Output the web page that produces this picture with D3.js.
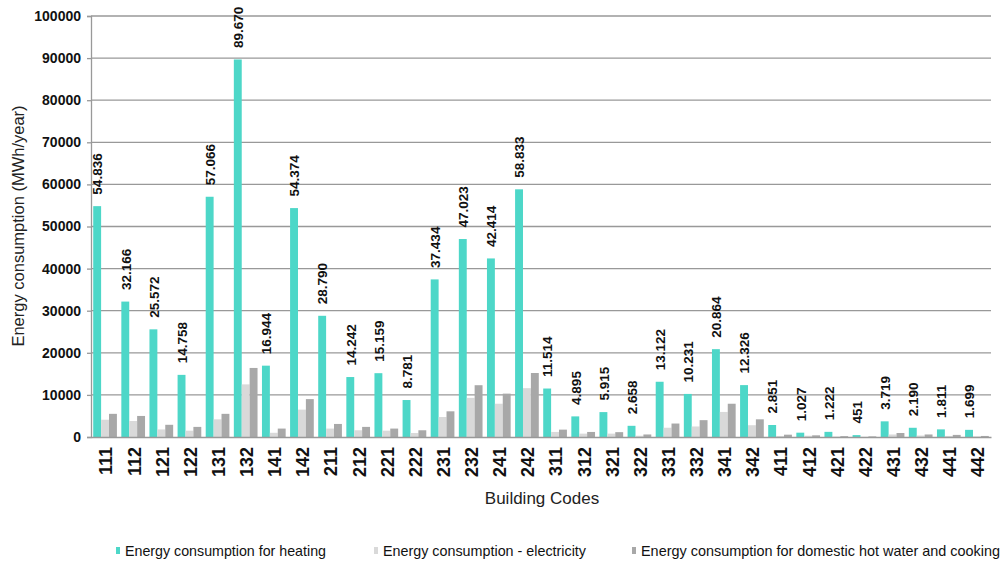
<!DOCTYPE html>
<html><head><meta charset="utf-8">
<script src="https://cdn.jsdelivr.net/npm/d3@7"></script>
<style>html,body{margin:0;padding:0;background:#fff;}svg{display:block;font-family:"Liberation Sans",Arial,sans-serif;}</style>
</head><body><svg id="chart" width="1006" height="564"></svg>
<script>
const codes = ["111","112","121","122","131","132","141","142","211","212","221","222","231","232","241","242","311","312","321","322","331","332","341","342","411","412","421","422","431","432","441","442"];
const heating = [54836,32166,25572,14758,57066,89670,16944,54374,28790,14242,15159,8781,37434,47023,42414,58833,11514,4895,5915,2658,13122,10231,20864,12326,2851,1027,1222,451,3719,2190,1811,1699];
const electricity = [4100,3800,1800,1500,4200,12500,1000,6500,2000,1600,1500,950,4750,9300,7900,11600,1200,800,800,300,2200,2500,5950,2800,250,300,100,50,600,350,250,150];
const dhw = [5500,5000,2900,2400,5500,16400,2000,9000,3100,2400,2000,1600,6100,12300,10300,15200,1750,1200,1150,600,3200,4000,7900,4200,550,400,200,150,950,600,500,250];
const seriesNames = ["Energy consumption for heating","Energy consumption - electricity","Energy consumption for domestic hot water and cooking"];
const seriesColors = ["#4dd7c8","#d9d9d9","#a8a8a8"];
const yTicks = [0,10000,20000,30000,40000,50000,60000,70000,80000,90000,100000];

const svg = d3.select("#chart");
const L = 91, R = 991, T = 16, B = 437;
const x = d3.scaleBand().domain(codes).range([L, R]).paddingInner(0).paddingOuter(0);
const keys = ["h","e","d"];
const xi = d3.scaleBand().domain(keys).range([0, x.bandwidth()]).paddingInner(0).paddingOuter(0.28);
const y = d3.scaleLinear().domain([0, 100000]).range([B, T]);
const loc = d3.formatLocale({decimal:",", thousands:".", grouping:[3], currency:["",""]});
const fmt = loc.format(",");

// gridlines
svg.append("g").selectAll("line").data(yTicks.filter(d=>d>0)).join("line")
  .attr("x1", L).attr("x2", R).attr("y1", d=>y(d)).attr("y2", d=>y(d))
  .attr("stroke", "#999").attr("stroke-width", 1.3);

// y axis
const yAxis = svg.append("g").attr("transform", `translate(${L},0)`)
  .call(d3.axisLeft(y).tickValues(yTicks).tickFormat(d3.format("d")).tickSize(4).tickPadding(6));
yAxis.select(".domain").attr("stroke", "#999").attr("stroke-width", 1.3);
yAxis.selectAll(".tick line").attr("stroke", "#999").attr("stroke-width", 1.3);
yAxis.selectAll("text").attr("font-size", 14).attr("font-weight", "bold").attr("fill", "#111")
  .attr("font-family", "Liberation Sans, Arial, sans-serif");

const data = codes.map((c,i)=>({code:c, h:heating[i], e:electricity[i], d:dhw[i]}));
const g = svg.append("g");
keys.forEach((k, si) => {
  g.append("g").selectAll("rect").data(data).join("rect")
    .attr("x", d => x(d.code) + xi(k))
    .attr("width", xi.bandwidth())
    .attr("y", d => y(d[k]))
    .attr("height", d => B - y(d[k]))
    .attr("fill", seriesColors[si]);
});

// x axis
const xAxis = svg.append("g").attr("transform", `translate(0,${B})`)
  .call(d3.axisBottom(x).tickSize(0).tickPadding(0));
xAxis.select(".domain").attr("stroke", "#999").attr("stroke-width", 1.3);
xAxis.selectAll("text")
  .attr("font-size", 18).attr("font-weight", "bold").attr("fill", "#111")
  .attr("font-family", "Liberation Sans, Arial, sans-serif")
  .attr("transform", "rotate(-90)")
  .attr("text-anchor", "end").attr("dy", "0.35em").attr("x", -10).attr("y", 1);

// value labels
g.append("g").selectAll("text").data(data).join("text")
  .attr("transform", d => `translate(${x(d.code) + xi("h") + xi.bandwidth()/2 + 0.5},${y(d.h) - 11.5}) rotate(-90)`)
  .attr("text-anchor", "start").attr("dy", "0.35em")
  .attr("font-size", 13.5).attr("font-weight", "bold").attr("fill", "#111")
  .text(d => fmt(d.h));

// axis titles
svg.append("text").attr("x", 542).attr("y", 504).attr("text-anchor", "middle")
  .attr("font-size", 17).attr("fill", "#222").text("Building Codes");
svg.append("text").attr("transform", "translate(24,226) rotate(-90)").attr("text-anchor", "middle")
  .attr("font-size", 16.5).attr("fill", "#222").text("Energy consumption (MWh/year)");

// legend
const legX = [116, 374, 632];
const legW = [201, 203, 359];
const leg = svg.append("g");
seriesNames.forEach((n, i) => {
  leg.append("rect").attr("x", legX[i]).attr("y", 547).attr("width", 4).attr("height", 7).attr("fill", seriesColors[i]);
  leg.append("text").attr("x", legX[i] + 9).attr("y", 556).attr("font-size", 14.3).attr("fill", "#111")
    .attr("textLength", legW[i]).attr("lengthAdjust", "spacingAndGlyphs")
    .text(n);
});
</script></body></html>
